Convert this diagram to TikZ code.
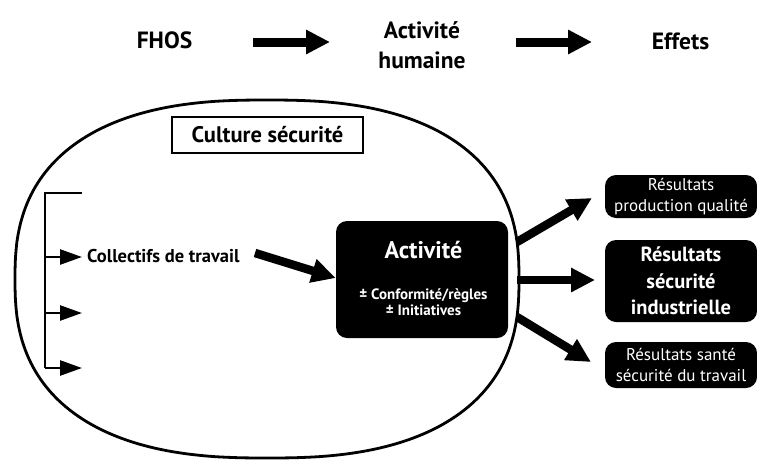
\documentclass[tikz,border=0pt]{standalone}
\usepackage{fontspec}
\setmainfont{PT Sans}
\usetikzlibrary{arrows.meta}
\begin{document}
\begin{tikzpicture}[x=1pt,y=-1pt,
  bigarrow/.style={line width=9pt,-{Triangle[length=24pt,width=23pt]}},
  midarrow/.style={line width=8.5pt,-{Triangle[length=24pt,width=23pt]}},
  smallarrow/.style={line width=2.5pt,-{Triangle[length=22pt,width=15pt]}},
  title/.style={font=\bfseries\fontsize{23.5}{30}\selectfont,align=center,inner sep=0pt},
  blackbox/.style={fill=black,text=white,rounded corners=11pt,align=center,inner sep=0pt},
  ellline/.style={line width=2.8pt}]
\useasboundingbox (0,0) rectangle (757,461);
% top row
\node[title] (fhos) at (164.5,40.5) {FHOS};
\node[title] (act) at (422,45) {Activité\\humaine};
\node[title] (eff) at (680.5,41.5) {Effets};
\coordinate (a1s) at (253,42); \coordinate (a1e) at (330,42);
\coordinate (a2s) at (516,42); \coordinate (a2e) at (592,42);
\draw[bigarrow] (a1s) -- (a1e);
\draw[bigarrow] (a2s) -- (a2e);
% activity box
\node[blackbox,minimum width=172pt,minimum height=117pt] (box) at (422,279.5) {};
\node[text=white,inner sep=0pt,font=\bfseries\fontsize{24}{28}\selectfont] (boxt) at (423.5,250) {Activité};
\node[text=white,inner sep=0pt,font=\bfseries\fontsize{15}{16.5}\selectfont,align=center] (boxs) at (423.5,302) {± Conformité/règles\\± Initiatives};
% rounded ellipse (superellipse)
\draw[ellline]
  plot[domain=0.01:89.99,samples=60,variable=\t] ({267+252*pow(cos(\t),0.8)},{279-179*pow(sin(\t),0.8)})
  -- plot[domain=89.99:0.01,samples=60,variable=\t] ({267-252*pow(cos(\t),0.8)},{279-179*pow(sin(\t),0.8)})
  -- plot[domain=0.01:89.99,samples=60,variable=\t] ({267-252*pow(cos(\t),0.8)},{279+179*pow(sin(\t),0.8)})
  -- plot[domain=89.99:0.01,samples=60,variable=\t] ({267+252*pow(cos(\t),0.8)},{279+179*pow(sin(\t),0.8)})
  -- cycle;
% culture securite
\node[draw,line width=2.5pt,fill=white,minimum width=191pt,minimum height=36pt,inner sep=0pt,font=\bfseries\fontsize{22.5}{26}\selectfont] (cult) at (267.5,135) {Culture sécurité};
% bracket
\coordinate (b0) at (45,193);
\coordinate (b1) at (45,257);
\coordinate (b2) at (45,313);
\coordinate (b3) at (45,368);
\coordinate (t0) at (82,193);
\coordinate (t1) at (82,257);
\coordinate (t2) at (82,313);
\coordinate (t3) at (82,368);
\draw[line width=2.5pt] (t0) -- (b0) -- (b3);
\draw[smallarrow] (b1) -- (t1);
\draw[smallarrow] (b2) -- (t2);
\draw[smallarrow] (b3) -- (t3);
\node[anchor=west,font=\bfseries\fontsize{18.5}{22}\selectfont,inner sep=0pt] (coll) at (87,256.5) {Collectifs de travail};
\coordinate (cs) at (255,253);
\draw[midarrow] (cs) -- (box.west |- 0,278);
% right boxes
\node[blackbox,minimum width=152pt,minimum height=43pt,font=\fontsize{17}{21.5}\selectfont] (r1) at (681,196.5) {Résultats\\production qualité};
\node[blackbox,minimum width=152pt,minimum height=82pt,font=\bfseries\fontsize{20.5}{26.5}\selectfont] (r2) at (681,281) {Résultats\\sécurité\\industrielle};
\node[blackbox,minimum width=152pt,minimum height=46pt,font=\fontsize{17}{21.5}\selectfont] (r3) at (681,365) {Résultats santé\\sécurité du travail};
\coordinate (o1s) at (517,242); \coordinate (o1e) at (592,198);
\coordinate (o2s) at (517,280); \coordinate (o2e) at (595,280);
\coordinate (o3s) at (517,317); \coordinate (o3e) at (591,362);
\draw[midarrow] (o1s) -- (o1e);
\draw[midarrow] (o2s) -- (o2e);
\draw[midarrow] (o3s) -- (o3e);
\end{tikzpicture}
\end{document}
